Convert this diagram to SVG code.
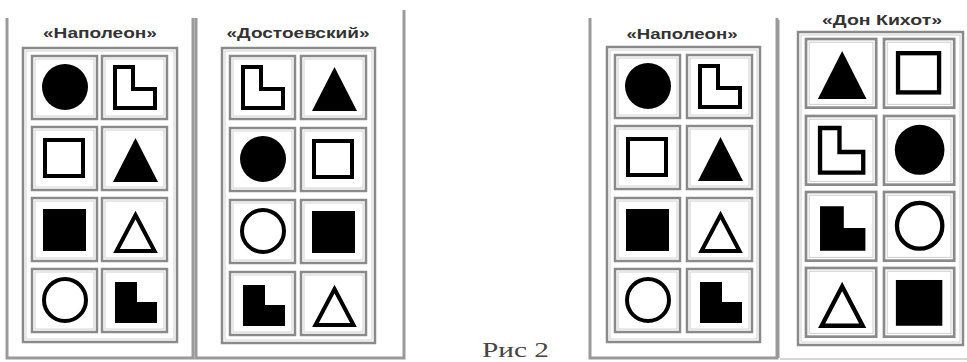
<svg xmlns="http://www.w3.org/2000/svg" xmlns:xlink="http://www.w3.org/1999/xlink" width="967" height="362" viewBox="0 0 967 362">
<style>
.frameline{stroke:#9a9a9a;stroke-width:3;fill:none}
.box{fill:#fff;stroke:#8a8a8a;stroke-width:2.5}
.boxin{fill:none;stroke:#d2d2d2;stroke-width:1}
.title{font-family:"Liberation Sans",Arial,sans-serif;font-weight:bold;font-size:14px;fill:#333;text-anchor:middle}
.cap{font-family:"Liberation Serif","Times New Roman",serif;font-size:21px;fill:#444}
.f{fill:#000}
.o{fill:none;stroke:#000;stroke-width:4;stroke-linejoin:miter}
</style>
<defs>
<g id="frame"><rect class="box" x="0" y="0" width="65" height="63"/><rect class="boxin" x="3" y="3" width="59" height="57"/></g>
<circle id="circF" class="f" cx="33" cy="31" r="23"/>
<circle id="circO" class="o" cx="33" cy="31" r="21"/>
<rect id="sqF" class="f" x="11" y="11" width="43" height="42"/>
<rect id="sqO" class="o" x="13" y="13" width="38" height="36"/>
<polygon id="triF" class="f" points="33.5,11 56,55 11,55"/>
<polygon id="triO" class="o" points="33.5,17 52.5,53 14.5,53"/>
<path id="LO" class="o" d="M13,11 H31 V33 H53 V52 H13 Z"/>
<path id="LF" class="f" d="M13,13 H35 V33 H55 V54 H13 Z"/>
</defs>
<rect x="0" y="0" width="967" height="362" fill="#fff"/>

<g id="frames">
<path class="frameline" d="M7,18 V358 H193 V18"/>
<path class="frameline" d="M196,18 V358 H404 V10"/>
<path class="frameline" d="M590,18 V358 H777 V18"/>
<path class="frameline" d="M778,20 V358"/>
<path d="M780,359 H967" stroke="#c8c8c8" stroke-width="1.5"/>
</g>

<g id="panel-napoleon-1">
<text class="title" x="100" y="38" textLength="114" lengthAdjust="spacingAndGlyphs">«Наполеон»</text>
<rect class="box" x="23" y="48" width="154" height="294"/><rect class="boxin" x="26" y="51" width="148" height="288"/>
<g transform="translate(32,56)"><use href="#frame"/><use href="#circF"/></g>
<g transform="translate(102,56)"><use href="#frame"/><use href="#LO"/></g>
<g transform="translate(32,127)"><use href="#frame"/><use href="#sqO"/></g>
<g transform="translate(102,127)"><use href="#frame"/><use href="#triF"/></g>
<g transform="translate(32,198)"><use href="#frame"/><use href="#sqF"/></g>
<g transform="translate(102,198)"><use href="#frame"/><use href="#triO"/></g>
<g transform="translate(32,269)"><use href="#frame"/><use href="#circO"/></g>
<g transform="translate(102,269)"><use href="#frame"/><use href="#LF"/></g>
</g>

<g id="panel-dostoevsky">
<text class="title" x="298" y="38" textLength="143" lengthAdjust="spacingAndGlyphs">«Достоевский»</text>
<rect class="box" x="222" y="48" width="153" height="295"/><rect class="boxin" x="225" y="51" width="147" height="289"/>
<g transform="translate(230,56)"><use href="#frame"/><use href="#LO"/></g>
<g transform="translate(301,56)"><use href="#frame"/><use href="#triF"/></g>
<g transform="translate(230,128)"><use href="#frame"/><use href="#circF"/></g>
<g transform="translate(301,128)"><use href="#frame"/><use href="#sqO"/></g>
<g transform="translate(230,200)"><use href="#frame"/><use href="#circO"/></g>
<g transform="translate(301,200)"><use href="#frame"/><use href="#sqF"/></g>
<g transform="translate(230,272)"><use href="#frame"/><use href="#LF"/></g>
<g transform="translate(301,272)"><use href="#frame"/><use href="#triO"/></g>
</g>

<g id="panel-napoleon-2">
<text class="title" x="682" y="39" textLength="111" lengthAdjust="spacingAndGlyphs">«Наполеон»</text>
<rect class="box" x="607" y="47" width="153" height="295"/><rect class="boxin" x="610" y="50" width="147" height="289"/>
<g transform="translate(615,55)"><use href="#frame"/><use href="#circF"/></g>
<g transform="translate(687,55)"><use href="#frame"/><use href="#LO"/></g>
<g transform="translate(615,126)"><use href="#frame"/><use href="#sqO"/></g>
<g transform="translate(687,126)"><use href="#frame"/><use href="#triF"/></g>
<g transform="translate(615,198)"><use href="#frame"/><use href="#sqF"/></g>
<g transform="translate(687,198)"><use href="#frame"/><use href="#triO"/></g>
<g transform="translate(615,269)"><use href="#frame"/><use href="#circO"/></g>
<g transform="translate(687,269)"><use href="#frame"/><use href="#LF"/></g>
</g>

<g id="panel-donquixote">
<text class="title" x="882" y="25" textLength="120" lengthAdjust="spacingAndGlyphs">«Дон Кихот»</text>
<rect class="box" x="798" y="32" width="165" height="313"/><rect class="boxin" x="801" y="35" width="159" height="307"/>
<g transform="translate(806,39) scale(1.08,1.09)"><use href="#frame"/><use href="#triF"/></g>
<g transform="translate(884,39) scale(1.08,1.09)"><use href="#frame"/><use href="#sqO"/></g>
<g transform="translate(806,116) scale(1.08,1.09)"><use href="#frame"/><use href="#LO"/></g>
<g transform="translate(884,116) scale(1.08,1.09)"><use href="#frame"/><use href="#circF"/></g>
<g transform="translate(806,192) scale(1.08,1.09)"><use href="#frame"/><use href="#LF"/></g>
<g transform="translate(884,192) scale(1.08,1.09)"><use href="#frame"/><use href="#circO"/></g>
<g transform="translate(806,268) scale(1.08,1.09)"><use href="#frame"/><use href="#triO"/></g>
<g transform="translate(884,268) scale(1.08,1.09)"><use href="#frame"/><use href="#sqF"/></g>
</g>

<text id="caption" class="cap" x="482" y="357" textLength="67" lengthAdjust="spacingAndGlyphs">Рис 2</text>
</svg>
